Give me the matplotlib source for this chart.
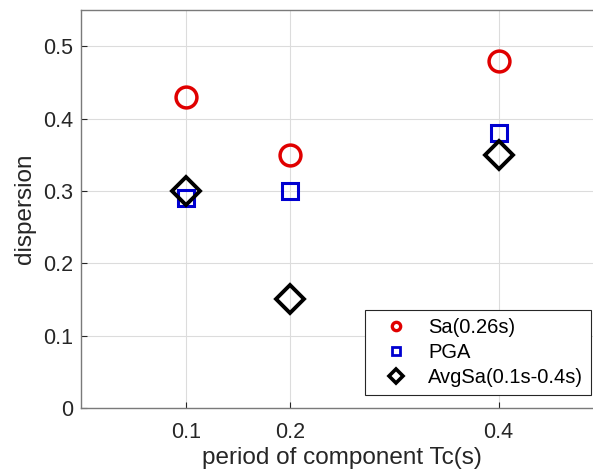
import matplotlib
matplotlib.use("Agg")
import matplotlib.pyplot as plt
from matplotlib.lines import Line2D

plt.rcParams['font.family'] = ['Liberation Sans', 'DejaVu Sans']

periods = [0.1, 0.2, 0.4]
sa_026 = [0.43, 0.35, 0.48]
pga = [0.29, 0.30, 0.38]
avgsa = [0.30, 0.15, 0.35]
labels = ['Sa(0.26s)', 'PGA', 'AvgSa(0.1s-0.4s)']
yticks = [0, 0.1, 0.2, 0.3, 0.4, 0.5]
ytick_labels = ['0', '0.1', '0.2', '0.3', '0.4', '0.5']

fig = plt.figure(figsize=(5.93, 4.76), dpi=100)
# right edge of the axes lies just outside the picture, as in the reference
ax = fig.add_axes([0.1374, 0.1429, 0.8794, 0.8361])

ax.plot(periods, sa_026, 'o', color='#e00000', mfc='none', ms=15, mew=2.5, zorder=3)
ax.plot(periods, pga, 's', color='#0000d0', mfc='none', ms=11, mew=2.2, zorder=3)
ax.plot(periods, avgsa, 'D', color='black', mfc='none', ms=14.5, mew=2.8, zorder=4)

ax.set_xlim(0, 0.5)
ax.set_ylim(0, 0.55)
ax.set_xticks(periods)
ax.set_xticklabels(['0.1', '0.2', '0.4'])
ax.set_yticks(yticks)
ax.set_yticklabels(ytick_labels)
ax.grid(True, color='#dcdcdc', linewidth=0.8)
ax.set_axisbelow(True)
ax.tick_params(direction='in', labelsize=15.5, colors='#262626', length=4)
ax.tick_params(axis='x', pad=10)
ax.tick_params(axis='y', pad=6)
for sp in ax.spines.values():
    sp.set_color('#7a7a7a')
    sp.set_linewidth(1.0)

ax.set_xlabel('period of component Tc(s)', fontsize=17.5, color='#262626', labelpad=3)
ax.set_ylabel('dispersion', fontsize=17.5, color='#262626', labelpad=5)

handles = [
    Line2D([], [], ls='none', marker='o', color='#e00000', mfc='none', ms=6, mew=2.4),
    Line2D([], [], ls='none', marker='s', color='#0000d0', mfc='none', ms=6, mew=2.0),
    Line2D([], [], ls='none', marker='D', color='black', mfc='none', ms=7, mew=2.6),
]
leg = ax.legend(handles, labels, loc='lower right', bbox_to_anchor=(0.977, 0.0327),
                bbox_transform=ax.transAxes, fontsize=14.5, frameon=True, fancybox=False,
                edgecolor='#262626', framealpha=1, borderpad=0.4, labelspacing=0.3,
                handlelength=2.2, handletextpad=0.5, borderaxespad=0)
leg.get_frame().set_linewidth(0.8)

fig.savefig('out.png', dpi=100)
